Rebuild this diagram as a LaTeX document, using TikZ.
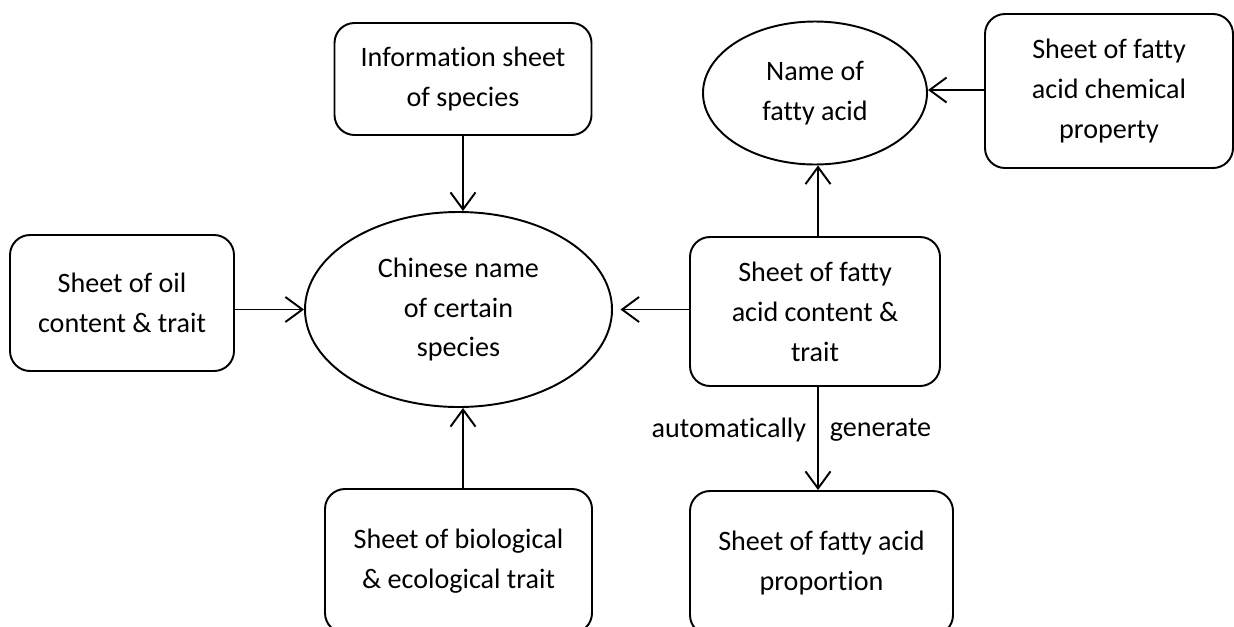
\documentclass[tikz,border=0pt]{standalone}
\usepackage{fontspec}
\setmainfont{Carlito}[Ligatures=NoCommon]
\usetikzlibrary{arrows.meta,shapes.geometric}
\begin{document}
\begin{tikzpicture}[>={Straight Barb[length=3.4mm,width=5mm]}, line width=1.1pt,
	sheet/.style={draw, rounded corners=4mm, align=center, font=\fontsize{16}{22.7}\selectfont, inner sep=0pt},
	oval/.style={draw, ellipse, align=center, font=\fontsize{16}{22.7}\selectfont, inner sep=0pt}]
	\useasboundingbox (0,0) rectangle (24.68,-12.52);
	\clip (0,0) rectangle (24.68,-12.52);
	
	% Các bảng xung quanh
	\node[sheet, minimum width=5.14cm, minimum height=2.24cm] (info) at (9.26,-1.58) {Information sheet\\of species};
	\node[sheet, minimum width=4.48cm, minimum height=2.72cm] (oil) at (2.44,-6.06) {Sheet of oil\\content \& trait};
	\node[sheet, minimum width=5.34cm, minimum height=2.88cm] (bio) at (9.17,-11.22) {Sheet of biological\\\& ecological trait};
	\node[sheet, minimum width=5.0cm, minimum height=2.98cm] (content) at (16.3,-6.23) {Sheet of fatty\\acid content \&\\trait};
	\node[sheet, minimum width=5.26cm, minimum height=2.88cm] (prop) at (16.43,-11.26) {Sheet of fatty acid\\proportion};
	\node[sheet, minimum width=4.96cm, minimum height=3.08cm] (chem) at (22.18,-1.82) {Sheet of fatty\\acid chemical\\property};
	
	% Hai hình elip
	\node[oval, minimum width=6.14cm, minimum height=3.9cm] (chinese) at (9.17,-6.19) {Chinese name\\of certain\\species};
	\node[oval, minimum width=4.48cm, minimum height=2.86cm] (name) at (16.3,-1.86) {Name of\\fatty acid};
	
	% Mũi tên
	\draw[->] (info.south) -- (chinese.north -| info.south);
	\draw[->] (oil.east |- chinese.west) -- (chinese.west);
	\draw[->] (bio.north -| info.south) -- (chinese.south -| info.south);
	\draw[->] (content.west |- chinese.east) -- ([xshift=1.5mm]chinese.east);
	\draw[->] ([xshift=0.6mm]content.north) -- ([xshift=0.6mm]name.south);
	\draw[->] (chem.west |- 0,-1.8) -- (name.east |- 0,-1.8);
	\draw[->] ([xshift=0.6mm]content.south) -- ([xshift=0.6mm]content.south |- prop.north)
		node[pos=0.42, left=1mm, font=\fontsize{16}{22.7}\selectfont] {automatically}
		node[pos=0.42, right=1mm, font=\fontsize{16}{22.7}\selectfont] {generate};
\end{tikzpicture}
\end{document}
